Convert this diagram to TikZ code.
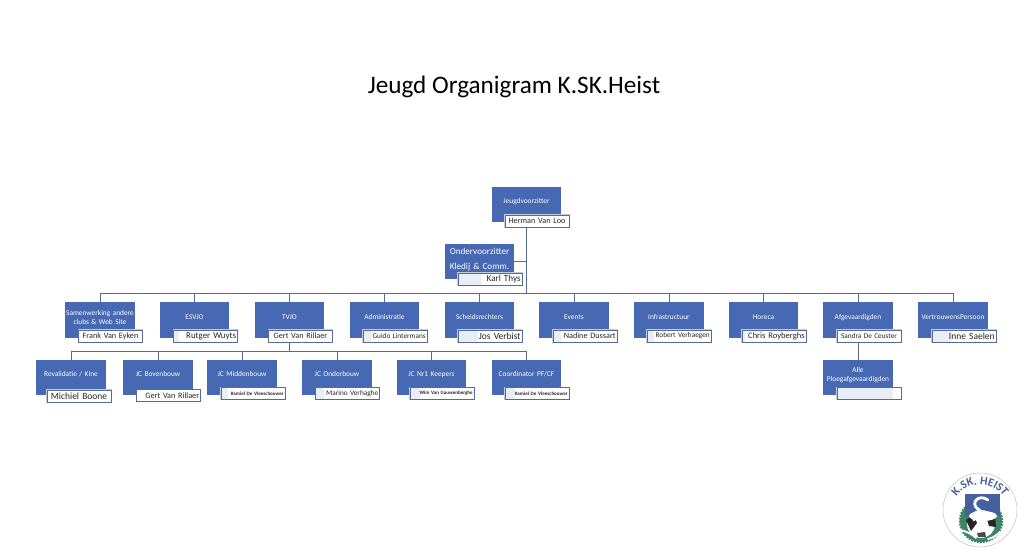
\documentclass[tikz,border=0pt]{standalone}
\usepackage{fontspec}
\setmainfont{Carlito}
\usetikzlibrary{decorations.text}
\definecolor{vakblauw}{HTML}{4768B2}
\definecolor{lijnblauw}{HTML}{566B94}
\definecolor{bleekblauw}{HTML}{E9EDF8}
\definecolor{logoblauw}{HTML}{46609F}
\definecolor{logogroen}{HTML}{3F8468}

\begin{document}
\begin{tikzpicture}[x=0.03cm, y=-0.03cm,
    functie/.style={fill=vakblauw, text=white, minimum width=2.08cm, minimum height=1.06cm, inner sep=0pt,
      text width=2.08cm, align=center, text height=5pt, text depth=6pt, font=\fontsize{6.3}{7}\selectfont},
    naam/.style={preaction={draw=lijnblauw!35, line width=1.5pt}, draw=lijnblauw, line width=0.7pt, fill=white,
      minimum width=1.92cm, minimum height=0.36cm, inner sep=0pt,
      text width=1.84cm, align=center, text=black!85, font=\fontsize{7}{8}\selectfont},
    rechts/.style={align=right},
    klein/.style={font=\fontsize{4.3}{5}\selectfont\bfseries},
    middel/.style={font=\fontsize{6.2}{7}\selectfont},
    groot/.style={font=\fontsize{8.1}{9}\selectfont},
    bleek/.style={path picture={\fill[bleekblauw] (path picture bounding box.south west) rectangle ([xshift=#1]path picture bounding box.north west);}},
    lijn/.style={draw=lijnblauw, line width=0.8pt}]
  \useasboundingbox (0,0) rectangle (1024,559);

  \node (titel) at (514,86.5) {\fontsize{21.5}{24}\selectfont Jeugd Organigram K.SK.Heist};

  \node[functie] (jeugd) at (526.5,204.5) {Jeugdvoorzitter};
  \node[functie, text depth=16.5pt, font=\fontsize{7.8}{12.6}\selectfont] (onder) at (479.5,261.5) {Ondervoorzitter\\Kledij \& Comm.};

  \node[functie, text depth=12pt] (samen) at (100,320) {Samenwerking andere\\clubs \& Web Site};
  \node[functie] (esvjo) at (194.5,320) {ESVJO};
  \node[functie] (tvjo) at (289.5,320) {TVJO};
  \node[functie] (admin) at (384.5,320) {Administratie};
  \node[functie] (scheids) at (479.5,320) {Scheidsrechters};
  \node[functie] (events) at (574,320) {Events};
  \node[functie] (infra) at (669,320) {Infrastructuur};
  \node[functie] (horeca) at (763.5,320) {Horeca};
  \node[functie] (afgev) at (858,320) {Afgevaardigden};
  \node[functie] (vertrouw) at (953,320) {VertrouwensPersoon};

  \node[functie] (reval) at (71,377.5) {Revalidatie / Kine};
  \node[functie] (bovenb) at (158,377.5) {JC Bovenbouw};
  \node[functie] (middenb) at (242,377.5) {JC Middenbouw};
  \node[functie] (onderb) at (337,377.5) {JC Onderbouw};
  \node[functie] (keepers) at (431.5,377.5) {JC Nr1 Keepers};
  \node[functie] (coord) at (526.5,377.5) {Coordinator PF/CF};
  \node[functie, text depth=14pt, font=\fontsize{6.3}{7.7}\selectfont] (alle) at (858,377.5) {Alle\\Ploegafgevaardigden};

  \coordinate (hoofdbus) at (526.5,293);
  \coordinate (tvjobus) at (289.5,351);

  \draw[lijn] (jeugd.south) -- (hoofdbus);
  \draw[lijn] (onder.east) -- (onder.east -| hoofdbus);
  \draw[lijn] (samen.north) |- (hoofdbus);
  \draw[lijn] (esvjo.north) |- (hoofdbus);
  \draw[lijn] (tvjo.north) |- (hoofdbus);
  \draw[lijn] (admin.north) |- (hoofdbus);
  \draw[lijn] (scheids.north) |- (hoofdbus);
  \draw[lijn] (events.north) |- (hoofdbus);
  \draw[lijn] (infra.north) |- (hoofdbus);
  \draw[lijn] (horeca.north) |- (hoofdbus);
  \draw[lijn] (afgev.north) |- (hoofdbus);
  \draw[lijn] (vertrouw.north) |- (hoofdbus);
  \draw[lijn] (tvjo.south) -- (tvjobus);
  \draw[lijn] (reval.north) |- (tvjobus);
  \draw[lijn] (bovenb.north) |- (tvjobus);
  \draw[lijn] (middenb.north) |- (tvjobus);
  \draw[lijn] (onderb.north) |- (tvjobus);
  \draw[lijn] (keepers.north) |- (tvjobus);
  \draw[lijn] (coord.north) |- (tvjobus);
  \draw[lijn] (afgev.south) -- (alle.north);

  \node[naam] (herman) at (537,221) {Herman Van Loo};
  \node[naam, rechts, font=\fontsize{7.8}{9}\selectfont, bleek=0.7cm] (karl) at (490,279) {Karl Thys};

  \node[naam] (frank) at (110.5,336) {Frank Van Eyken};
  \node[naam, rechts, font=\fontsize{7.6}{9}\selectfont, bleek=0.15cm] (rutger) at (205.5,336) {Rutger Wuyts};
  \node[naam] (gert) at (300.5,336) {Gert Van Rillaer};
  \node[naam, rechts, middel, bleek=0.25cm] (guido) at (395,336) {Guido Lintermans};
  \node[naam, rechts, groot, bleek=0.6cm] (jos) at (490,336) {Jos Verbist};
  \node[naam, rechts, bleek=0.25cm] (nadine) at (585,336) {Nadine Dussart};
  \node[naam, rechts, middel, bleek=0.2cm] (robert) at (679,336) {Robert Verhaegen};
  \node[naam, rechts, font=\fontsize{7.3}{8}\selectfont, bleek=0.1cm] (chris) at (774,336) {Chris Royberghs};
  \node[naam, middel] (sandra) at (869,336) {Sandra De Ceuster};
  \node[naam, rechts, groot, bleek=0.6cm] (inne) at (964,336) {Inne Saelen};

  \node[naam, groot] (michiel) at (79,396) {Michiel Boone};
  \node[naam, rechts] (gert2) at (168.5,395.5) {Gert Van Rillaer};
  \node[naam, rechts, klein, bleek=0.2cm] (kamiel) at (253,393.5) {Kamiel De Vleeschouwer};
  \node[naam, rechts, font=\fontsize{6.2}{7}\selectfont, bleek=0.25cm] (marino) at (347.5,393.5) {Marino Verhaghe};
  \node[naam, rechts, klein, bleek=0.3cm] (wim) at (442,393.5) {Wim Van Gauwenberghe};
  \node[naam, rechts, klein, bleek=0.3cm] (kamiel2) at (537,393.5) {Kamiel De Vleeschouwer};
  \node[naam, bleek=1.68cm] (ploeg) at (869,393.5) {};

  % logo
  \draw[black!25, fill=white, line width=0.4pt] (980,510) circle (37);
  \draw[logogroen, fill=logogroen, line width=2pt, dash pattern=on 1.5pt off 1pt] (981,521) circle (21);
  \fill[logoblauw] (965,494) -- (1000,494) -- (1000,516) -- (965,516) -- cycle;
  \fill[white] (981,524) circle (14);
  \fill[black!85] (966,520) -- (973,514) -- (977,523) -- (971,531) -- cycle;
  \fill[black!85] (986,516) -- (995,516) -- (996,527) -- (989,526) -- cycle;
  \fill[black!70] (977,533) -- (985,532) -- (986,537) -- (978,537) -- cycle;
  \draw[white, line width=2.4pt, line cap=round] (988,500) .. controls (978,493) and (970,504) .. (978,509) .. controls (985,513) and (972,515) .. (974,520);
  \fill[white] (983,516) ellipse (14 and 5);
  \draw[white, line width=1.6pt, line cap=round] (960,530) .. controls (968,532) and (972,534) .. (976,538);
  \draw[white, line width=1.6pt, line cap=round] (1000,532) .. controls (996,536) and (992,538) .. (988,539);
  \path[decorate, decoration={text along path, text align=center,
    text={|\fontsize{10}{11}\selectfont\bfseries\color{logoblauw}|K.SK. HEIST}}]
    (952,513) .. controls (952,475) and (1008,475) .. (1008,513);
\end{tikzpicture}
\end{document}
